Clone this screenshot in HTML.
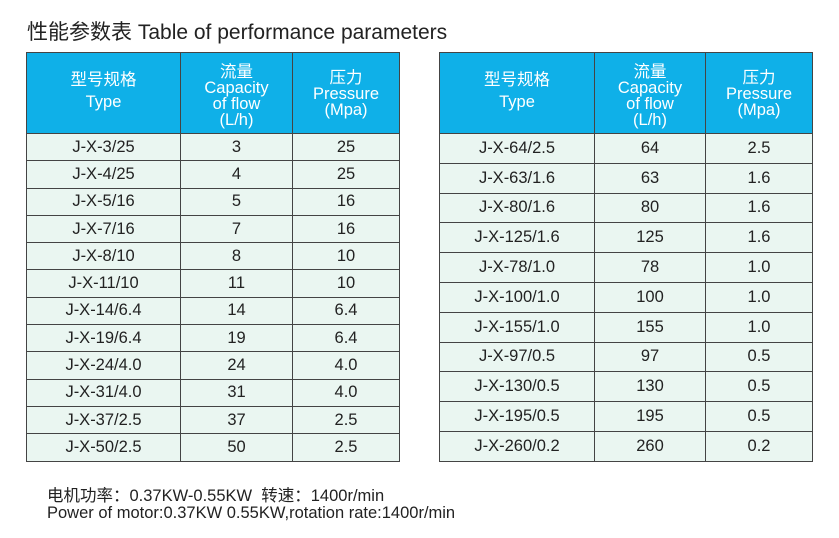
<!DOCTYPE html>
<html><head><meta charset="utf-8"><style>
body{margin:0;width:839px;height:538px;background:#fff;position:relative;font-family:"Liberation Sans","Noto Sans CJK SC",sans-serif;overflow:hidden}
.t{position:absolute;top:16px;left:27px;font-size:21px;color:#222}
table{position:absolute;top:52px;border-collapse:collapse;table-layout:fixed;width:373px}
td{border:1.5px solid #444;text-align:center;font-size:16.5px;color:#222;background:#eaf6f1;padding:0}
th{border:1.5px solid #444;background:#0fb0e8;color:#fff;font-weight:normal;font-size:16.5px;line-height:16px;height:80px;padding:0}
th.a{padding-top:6px;height:74px}
th.b{padding-top:2px;height:78px}
.f{position:absolute;left:47px;font-size:16.5px;color:#222;white-space:nowrap}
</style></head><body>
<div class="t">性能参数表 Table of performance parameters</div>
<table style="left:26px">
<colgroup><col style="width:154px"><col style="width:112px"><col style="width:107px"></colgroup>
<tr><th class="b">型号规格<br><span style="line-height:28px">Type</span></th><th class="a">流量<br>Capacity<br>of flow<br>(L/h)</th><th class="b">压力<br>Pressure<br>(Mpa)</th></tr>
<tr style="height:27.3px"><td>J-X-3/25</td><td>3</td><td>25</td></tr>
<tr style="height:27.3px"><td>J-X-4/25</td><td>4</td><td>25</td></tr>
<tr style="height:27.3px"><td>J-X-5/16</td><td>5</td><td>16</td></tr>
<tr style="height:27.3px"><td>J-X-7/16</td><td>7</td><td>16</td></tr>
<tr style="height:27.3px"><td>J-X-8/10</td><td>8</td><td>10</td></tr>
<tr style="height:27.3px"><td>J-X-11/10</td><td>11</td><td>10</td></tr>
<tr style="height:27.3px"><td>J-X-14/6.4</td><td>14</td><td>6.4</td></tr>
<tr style="height:27.3px"><td>J-X-19/6.4</td><td>19</td><td>6.4</td></tr>
<tr style="height:27.3px"><td>J-X-24/4.0</td><td>24</td><td>4.0</td></tr>
<tr style="height:27.3px"><td>J-X-31/4.0</td><td>31</td><td>4.0</td></tr>
<tr style="height:27.3px"><td>J-X-37/2.5</td><td>37</td><td>2.5</td></tr>
<tr style="height:27.3px"><td>J-X-50/2.5</td><td>50</td><td>2.5</td></tr>
</table>
<table style="left:439px">
<colgroup><col style="width:155px"><col style="width:111px"><col style="width:107px"></colgroup>
<tr><th class="b">型号规格<br><span style="line-height:28px">Type</span></th><th class="a">流量<br>Capacity<br>of flow<br>(L/h)</th><th class="b">压力<br>Pressure<br>(Mpa)</th></tr>
<tr style="height:29.8px"><td>J-X-64/2.5</td><td>64</td><td>2.5</td></tr>
<tr style="height:29.8px"><td>J-X-63/1.6</td><td>63</td><td>1.6</td></tr>
<tr style="height:29.8px"><td>J-X-80/1.6</td><td>80</td><td>1.6</td></tr>
<tr style="height:29.8px"><td>J-X-125/1.6</td><td>125</td><td>1.6</td></tr>
<tr style="height:29.8px"><td>J-X-78/1.0</td><td>78</td><td>1.0</td></tr>
<tr style="height:29.8px"><td>J-X-100/1.0</td><td>100</td><td>1.0</td></tr>
<tr style="height:29.8px"><td>J-X-155/1.0</td><td>155</td><td>1.0</td></tr>
<tr style="height:29.8px"><td>J-X-97/0.5</td><td>97</td><td>0.5</td></tr>
<tr style="height:29.8px"><td>J-X-130/0.5</td><td>130</td><td>0.5</td></tr>
<tr style="height:29.8px"><td>J-X-195/0.5</td><td>195</td><td>0.5</td></tr>
<tr style="height:29.8px"><td>J-X-260/0.2</td><td>260</td><td>0.2</td></tr>
</table>
<div class="f" style="top:482px">电机功率：0.37KW-0.55KW&nbsp; 转速：1400r/min</div>
<div class="f" style="top:504px">Power of motor:0.37KW 0.55KW,rotation rate:1400r/min</div>
</body></html>
